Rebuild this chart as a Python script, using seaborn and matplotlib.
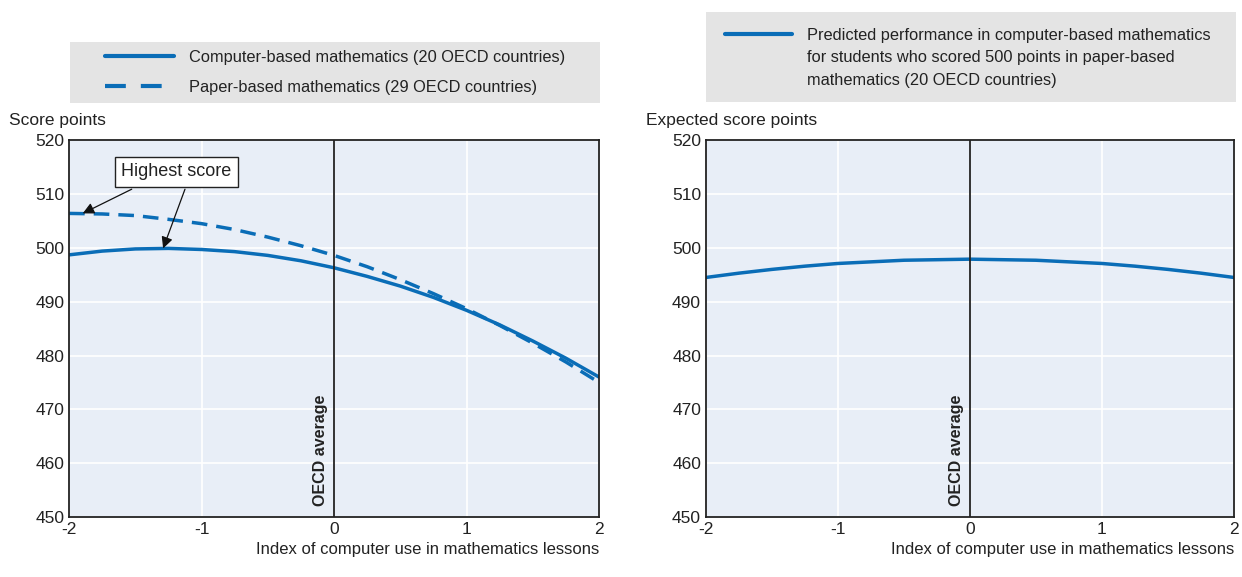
import matplotlib
matplotlib.use("Agg")
import matplotlib.pyplot as plt
from matplotlib.lines import Line2D
from matplotlib.patches import Rectangle
import seaborn as sns
import pandas as pd
from matplotlib import font_manager

# index of computer use in mathematics lessons
index_vals = [-2.0, -1.75, -1.5, -1.25, -1.0, -0.75, -0.5, -0.25, 0.0,
              0.25, 0.5, 0.75, 1.0, 1.25, 1.5, 1.75, 2.0]
computer_based = [498.7, 499.4, 499.8, 499.9, 499.7, 499.3, 498.6, 497.6, 496.3,
                  494.7, 492.9, 490.8, 488.4, 485.7, 482.7, 479.5, 476.0]
paper_based = [506.4, 506.3, 506.0, 505.3, 504.5, 503.4, 502.0, 500.4, 498.6,
               496.5, 494.1, 491.5, 488.7, 485.6, 482.3, 478.8, 475.0]
predicted = [494.5, 495.3, 496.0, 496.6, 497.1, 497.4, 497.7, 497.8, 497.9,
             497.8, 497.7, 497.4, 497.1, 496.6, 496.0, 495.3, 494.5]

xticks = [-2, -1, 0, 1, 2]
yticks = [450, 460, 470, 480, 490, 500, 510, 520]

lab_cb = "Computer-based mathematics (20 OECD countries)"
lab_pb = "Paper-based mathematics (29 OECD countries)"
lab_pr = ["Predicted performance in computer-based mathematics",
          "for students who scored 500 points in paper-based",
          "mathematics (20 OECD countries)"]

BLUE = "#0A6DB7"
BG = "#E8EEF7"
LEGBG = "#E4E4E4"
INK = "#222222"

sns.set_style("darkgrid", {"axes.facecolor": BG, "grid.color": "white",
                           "axes.edgecolor": INK})
names = {f.name for f in font_manager.fontManager.ttflist}
fam = "Liberation Sans Narrow" if "Liberation Sans Narrow" in names else "Liberation Sans"
plt.rcParams["font.family"] = [fam, "DejaVu Sans"]

left = pd.DataFrame({
    "x": index_vals * 2,
    "y": computer_based + paper_based,
    "series": [lab_cb] * len(index_vals) + [lab_pb] * len(index_vals),
})
right = pd.DataFrame({"x": index_vals, "y": predicted,
                      "series": [lab_pr[0]] * len(index_vals)})

fig = plt.figure(figsize=(12.42, 5.77), dpi=100)
ax1 = fig.add_axes([0.0556, 0.104, 0.4267, 0.653])
ax2 = fig.add_axes([0.5684, 0.104, 0.4251, 0.653])

sns.lineplot(data=left, x="x", y="y", hue="series", style="series",
             palette=[BLUE, BLUE], dashes=[(None, None), (4.5, 2.6)],
             linewidth=2.5, ax=ax1)
sns.lineplot(data=right, x="x", y="y", hue="series", palette=[BLUE],
             linewidth=2.5, ax=ax2)

for ax, ylab in [(ax1, "Score points"), (ax2, "Expected score points")]:
    ax.set_xlim(-2, 2)
    ax.set_ylim(450, 520)
    ax.set_xticks(xticks)
    ax.set_yticks(yticks)
    ax.set_xticklabels([str(t) for t in xticks])
    ax.tick_params(axis="both", labelsize=12.5, length=4, direction="in", width=1,
                   colors="#888888", labelcolor=INK)
    for s in ax.spines.values():
        s.set_visible(True)
        s.set_color(INK)
        s.set_linewidth(1.3)
    ax.grid(True, color="white", linewidth=1.2)
    ax.set_xlabel("Index of computer use in mathematics lessons", loc="right",
                  fontsize=12, color=INK, labelpad=4)
    ax.set_ylabel("")
    ax.text(-0.113, 1.053, ylab, transform=ax.transAxes, fontsize=12.5,
            ha="left", va="center", color=INK)
    ax.axvline(0, color=INK, linewidth=1.3, zorder=3)
    ax.text(-0.1, 452, "OECD average", rotation=90, ha="center", va="bottom",
            fontsize=11.5, fontweight="bold", color=INK)

# grey legend panels
fig.patches.append(Rectangle((0.0564, 0.8215), 0.4267, 0.1057, transform=fig.transFigure,
                             facecolor=LEGBG, edgecolor="none", zorder=0))
fig.patches.append(Rectangle((0.5684, 0.8232), 0.4267, 0.1560, transform=fig.transFigure,
                             facecolor=LEGBG, edgecolor="none", zorder=0))

h1, l1 = ax1.get_legend_handles_labels()
ax1.get_legend().remove()
leg1 = fig.legend(h1, l1, loc="upper left", bbox_to_anchor=(0.0845, 0.9133),
                  bbox_transform=fig.transFigure, frameon=False, fontsize=11.8,
                  handlelength=4.2, handletextpad=0.9, labelspacing=0.92,
                  borderpad=0, borderaxespad=0)
for t in leg1.get_texts():
    t.set_color(INK)
for ln in leg1.get_lines():
    ln.set_linewidth(3)
leg1.get_lines()[1].set_dashes((5, 3.6))

h2, _ = ax2.get_legend_handles_labels()
ax2.get_legend().remove()
blank = Line2D([], [], color="none")
leg2 = fig.legend([h2[0], blank, blank], lab_pr, loc="upper left",
                  bbox_to_anchor=(0.5837, 0.9515), bbox_transform=fig.transFigure,
                  frameon=False, fontsize=11.8, handlelength=4.1, handletextpad=0.9,
                  labelspacing=0.45, borderpad=0, borderaxespad=0)
for t in leg2.get_texts():
    t.set_color(INK)
leg2.get_lines()[0].set_linewidth(3)

# highest score callout
ax1.text(-1.189, 514.15, "Highest score", ha="center", va="center", fontsize=13,
         color=INK, zorder=6,
         bbox=dict(boxstyle="square,pad=0.35", facecolor="white", edgecolor=INK,
                   linewidth=1))
arrow = dict(arrowstyle="-|>", color="#111111", lw=0.9, mutation_scale=17,
             shrinkA=0, shrinkB=0)
ax1.annotate("", xy=(-1.897, 506.4), xytext=(-1.527, 510.9), arrowprops=arrow, zorder=5)
ax1.annotate("", xy=(-1.29, 499.9), xytext=(-1.125, 510.9), arrowprops=arrow, zorder=5)

fig.savefig("out.png", dpi=100)
